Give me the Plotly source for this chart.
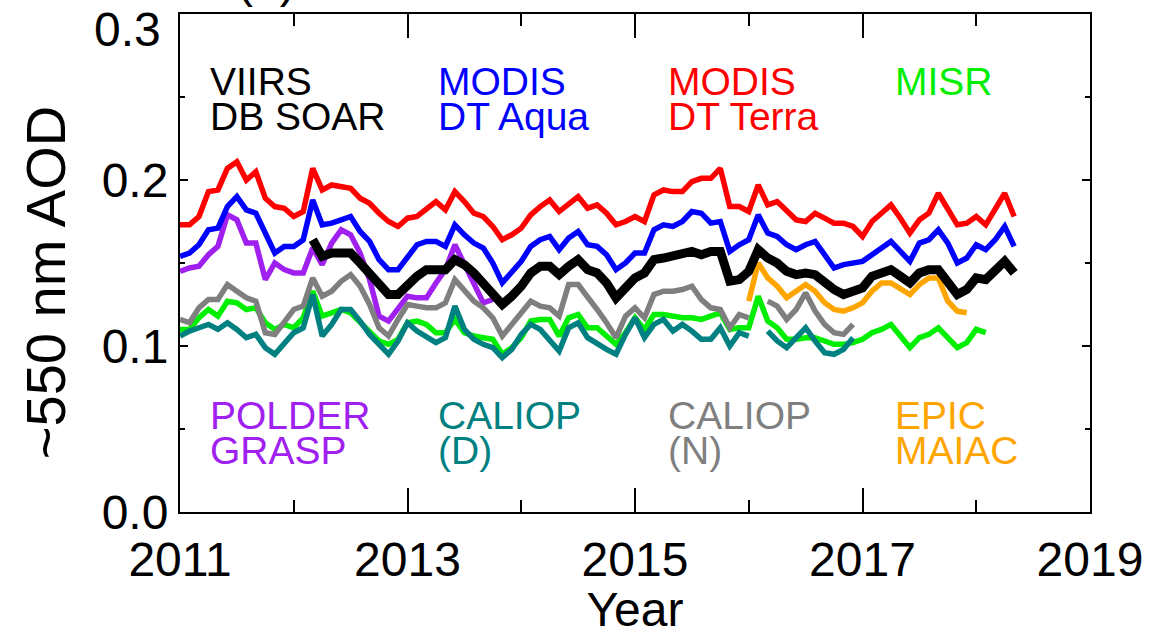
import plotly.graph_objects as go

# Monthly means, index 0 = Jan 2011
terra = [0.173,0.173,0.178,0.193,0.194,0.207,0.211,0.200,0.205,0.189,0.184,0.183,0.178,0.181,0.207,0.194,0.197,0.196,0.195,
         0.189,0.186,0.180,0.175,0.172,0.177,0.178,0.183,0.187,0.182,0.193,0.187,0.180,0.178,0.172,0.164,0.167,0.171,
         0.179,0.184,0.188,0.181,0.185,0.190,0.183,0.185,0.180,0.173,0.175,0.178,0.175,0.191,0.194,0.193,0.193,0.199,
         0.201,0.201,0.207,0.184,0.184,0.181,0.197,0.185,0.187,0.181,0.176,0.175,0.180,0.177,0.174,0.174,0.172,0.166,
         0.175,0.180,0.185,0.177,0.168,0.176,0.180,0.192,0.182,0.173,0.174,0.178,0.173,0.182,0.192,0.178]
terra_start = 0

aqua = [0.154,0.156,0.161,0.170,0.171,0.184,0.190,0.182,0.180,0.168,0.156,0.160,0.160,0.164,0.188,0.173,0.174,0.176,0.178,
        0.169,0.163,0.152,0.146,0.146,0.154,0.161,0.163,0.163,0.160,0.173,0.167,0.162,0.159,0.150,0.138,0.145,0.151,
        0.160,0.164,0.166,0.158,0.165,0.169,0.161,0.160,0.155,0.146,0.150,0.156,0.156,0.170,0.173,0.172,0.175,0.181,
        0.180,0.174,0.175,0.157,0.161,0.164,0.179,0.168,0.166,0.161,0.158,0.161,0.163,0.155,0.147,0.149,0.150,0.151,
        0.155,0.159,0.163,0.157,0.151,0.162,0.164,0.170,0.162,0.150,0.153,0.161,0.158,0.164,0.172,0.160]
aqua_start = 0

viirs = [0.164,0.154,0.156,0.156,0.156,
         0.150,0.144,0.137,0.131,0.131,0.137,0.142,0.146,0.146,0.146,0.152,0.149,0.144,0.138,0.131,0.125,0.130,0.136,
         0.144,0.148,0.148,0.143,0.148,0.152,0.146,0.144,0.138,0.129,0.135,0.141,0.144,0.152,0.153,0.154,0.156,0.157,
         0.155,0.157,0.157,0.139,0.140,0.145,0.158,0.153,0.150,0.145,0.143,0.144,0.143,0.138,0.134,0.131,0.133,0.135,
         0.142,0.144,0.146,0.142,0.138,0.144,0.146,0.146,0.138,0.131,0.134,0.141,0.140,0.146,0.151,0.144]
viirs_start = 14

grasp = [0.145,0.147,0.148,0.155,0.160,0.179,0.176,0.162,0.162,0.140,0.150,0.146,0.144,0.144,0.159,0.149,0.162,0.170,0.167,
         0.156,0.140,0.118,0.115,0.123,0.130,0.129,0.129,0.138,0.146,0.161,0.149,0.137,0.126,0.128]
grasp_start = 0

caliop_n = [0.116,0.114,0.123,0.128,0.128,0.137,0.133,0.129,0.127,0.108,0.107,0.115,0.122,0.124,0.141,0.130,0.133,0.139,0.143,
            0.136,0.125,0.111,0.106,0.116,0.125,0.124,0.123,0.123,0.126,0.140,0.133,0.127,0.123,0.117,0.106,0.113,0.121,
            0.127,0.124,0.123,0.118,0.137,0.137,0.130,0.122,0.114,0.105,0.118,0.123,0.117,0.131,0.133,0.133,0.134,0.136,
            0.128,0.123,0.122,0.111,0.119,0.117,None,0.127,0.124,0.116,0.122,0.132,0.121,0.113,0.108,0.107,0.113]
caliop_n_start = 0

misr = [0.110,0.110,0.117,0.122,0.118,0.127,0.126,0.122,0.123,0.114,0.110,0.113,0.111,0.117,0.133,0.118,0.120,0.122,0.120,
        0.114,0.108,0.103,0.101,0.104,0.114,0.115,0.113,0.108,0.108,0.116,0.108,0.106,0.105,0.104,0.095,0.099,0.105,
        0.115,0.116,0.116,0.106,0.117,0.119,0.111,0.111,0.106,0.101,0.108,0.117,0.110,0.119,0.119,0.118,0.117,0.117,
        0.116,0.118,0.120,0.110,0.111,0.111,0.130,0.115,0.111,0.104,0.104,0.105,0.105,0.103,0.101,0.101,0.102,0.104,
        0.108,0.110,0.113,0.106,0.099,0.105,0.107,0.111,0.105,0.099,0.102,0.110,0.108]
misr_start = 0

caliop_d = [0.106,0.109,0.111,0.113,0.110,0.114,0.110,0.105,0.107,0.099,0.095,0.101,0.108,0.111,0.131,0.106,0.113,0.122,0.122,
            0.115,0.107,0.101,0.095,0.103,0.114,0.109,0.105,0.102,0.105,0.124,0.110,0.104,0.101,0.099,0.093,0.098,0.107,
            0.113,0.110,0.104,0.097,0.111,0.114,0.105,0.101,0.098,0.095,0.107,0.117,0.105,0.113,0.116,0.109,0.113,0.109,
            0.104,0.104,0.111,0.100,0.108,0.106,None,0.109,0.103,0.099,0.105,0.111,0.103,0.096,0.095,0.098,0.105]
caliop_d_start = 0

epic = [0.127,0.150,0.141,0.136,0.129,0.133,0.137,0.133,0.126,0.122,0.121,0.123,
        0.126,0.133,0.138,0.138,0.134,0.131,0.137,0.141,0.141,0.127,0.121,0.120]
epic_start = 60

x_ticks = [2011, 2013, 2015, 2017, 2019]
y_ticks = [0.0, 0.1, 0.2, 0.3]

def years(start, vals):
    return [2011 + (start + k) / 12.0 for k in range(len(vals))]

series = [
    ("POLDER GRASP", grasp, grasp_start, "#A020F0", 5.5),
    ("MISR", misr, misr_start, "#00EE00", 5.5),
    ("CALIOP (N)", caliop_n, caliop_n_start, "#7F7F7F", 5.5),
    ("CALIOP (D)", caliop_d, caliop_d_start, "#008080", 5.5),
    ("EPIC MAIAC", epic, epic_start, "#FFA500", 5.5),
    ("MODIS DT Aqua", aqua, aqua_start, "#0000FF", 5.5),
    ("MODIS DT Terra", terra, terra_start, "#FF0000", 5.5),
    ("VIIRS DB SOAR", viirs, viirs_start, "#000000", 9),
]

fig = go.Figure()
for name, vals, st, col, w in series:
    fig.add_trace(go.Scatter(x=years(st, vals), y=vals, mode="lines", name=name,
                             line=dict(color=col, width=w), connectgaps=False))

FONT = "Liberation Sans, Arial, sans-serif"
labels = [
    ("VIIRS", 2011.25, 0.2595, "#000000"), ("DB SOAR", 2011.25, 0.2384, "#000000"),
    ("MODIS", 2013.25, 0.2595, "#0000FF"), ("DT Aqua", 2013.25, 0.2384, "#0000FF"),
    ("MODIS", 2015.27, 0.2595, "#FF0000"), ("DT Terra", 2015.27, 0.2384, "#FF0000"),
    ("MISR", 2017.27, 0.2595, "#00EE00"),
    ("POLDER", 2011.25, 0.058, "#A020F0"), ("GRASP", 2011.25, 0.037, "#A020F0"),
    ("CALIOP", 2013.25, 0.058, "#008080"), ("(D)", 2013.25, 0.037, "#008080"),
    ("CALIOP", 2015.27, 0.058, "#7F7F7F"), ("(N)", 2015.27, 0.037, "#7F7F7F"),
    ("EPIC", 2017.27, 0.058, "#FFA500"), ("MAIAC", 2017.27, 0.037, "#FFA500"),
]
for txt, lx, ly, col in labels:
    fig.add_annotation(x=lx, y=ly, xref="x", yref="y", text=txt, showarrow=False,
                       xanchor="left", yanchor="middle",
                       font=dict(family=FONT, size=39, color=col))

# partially visible panel tag at the very top
fig.add_annotation(x=0.095, y=1.01, xref="paper", yref="paper", text="(a)", showarrow=False,
                   xanchor="center", yanchor="bottom", font=dict(family=FONT, size=48, color="black"))

# top tick label sits slightly lower than its tick in the reference
fig.add_annotation(x=-0.0186, y=0.969, xref="paper", yref="paper", text="%.1f" % y_ticks[-1], showarrow=False,
                   xanchor="right", yanchor="middle", font=dict(family=FONT, size=48, color="black"))

# y-axis title
fig.add_annotation(x=-0.147, y=0.46, xref="paper", yref="paper", text="~550 nm AOD", showarrow=False,
                   textangle=-90, xanchor="center", yanchor="middle",
                   font=dict(family=FONT, size=56, color="black"))

axis_common = dict(showline=True, linecolor="black", linewidth=2, mirror="ticks",
                   ticks="inside", tickcolor="black", showgrid=False, zeroline=False,
                   tickfont=dict(family=FONT, size=48, color="black"))

fig.update_xaxes(range=[2011, 2019], tickvals=x_ticks, ticktext=[str(v) for v in x_ticks],
                 ticklen=24, tickwidth=2, ticklabelstandoff=4,
                 minor=dict(dtick=1, tick0=2011, ticklen=12, ticks="inside", tickcolor="black", tickwidth=2, showgrid=False),
                 title=dict(text="Year", font=dict(family=FONT, size=48, color="black"), standoff=5),
                 **axis_common)
fig.update_yaxes(range=[0, 0.3], tickvals=y_ticks,
                 ticktext=["%.1f" % v for v in y_ticks[:-1]] + [""],
                 ticklen=8, tickwidth=2,
                 minor=dict(dtick=0.05, tick0=0, ticklen=5, ticks="inside", tickcolor="black", tickwidth=2, showgrid=False),
                 **axis_common)

fig.update_layout(width=1155, height=636, margin=dict(l=180, r=60, t=13, b=124),
                  paper_bgcolor="white", plot_bgcolor="white", showlegend=False)

fig.write_html("out.html")
